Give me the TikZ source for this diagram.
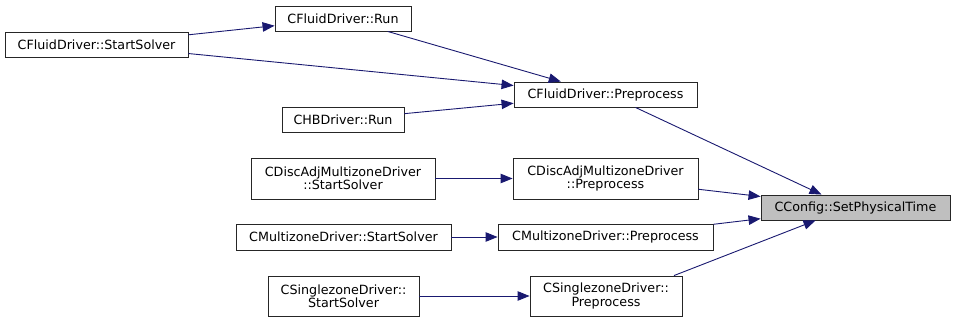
\documentclass[tikz,border=0pt]{standalone}
\usepackage{fontspec}
\setmainfont{DejaVu Sans}
\usetikzlibrary{arrows.meta,calc}
\definecolor{edgeblue}{HTML}{191970}
\definecolor{hlgray}{HTML}{BFBFBF}
\begin{document}
\begin{tikzpicture}[x=1pt,y=-1pt,
  fn/.style={draw=black!85,line width=0.9pt,fill=white,inner sep=0pt,
    align=center,font=\fontsize{12.7}{13.4}\selectfont,text=black},
  call/.style={draw=edgeblue,line width=0.9pt,
    -{Triangle[length=12pt,width=9.5pt]}}]
\useasboundingbox (0,0) rectangle (955,322);
% callers, leftmost column
\node[fn,minimum width=183,minimum height=25] (ss)  at (96.5,44.5) {CFluidDriver::StartSolver};
% middle column
\node[fn,minimum width=136,minimum height=25] (run) at (343,18.5) {CFluidDriver::Run};
\node[fn,minimum width=122,minimum height=25] (hb)  at (343,119.5) {CHBDriver::Run};
\node[fn,minimum width=184,minimum height=41] (dss) at (343,178.5) {CDiscAdjMultizoneDriver\\::StartSolver};
\node[fn,minimum width=215,minimum height=26] (mss) at (343.5,237) {CMultizoneDriver::StartSolver};
\node[fn,minimum width=151,minimum height=40] (sss) at (343.5,296) {CSinglezoneDriver::\\StartSolver};
% preprocess column
\node[fn,minimum width=183,minimum height=25] (fp)  at (605.5,94.5) {CFluidDriver::Preprocess};
\node[fn,minimum width=185,minimum height=41] (dpp) at (605.5,178.5) {CDiscAdjMultizoneDriver\\::Preprocess};
\node[fn,minimum width=215,minimum height=26] (mpp) at (605.5,237) {CMultizoneDriver::Preprocess};
\node[fn,minimum width=152,minimum height=40] (spp) at (606,296) {CSinglezoneDriver::\\Preprocess};
% the documented function
\node[fn,fill=hlgray,minimum width=189,minimum height=25] (spt) at (855.5,207.5) {CConfig::SetPhysicalTime};
% calls
\draw[call] (ss) -- (run);
\draw[call] (ss) -- (fp);
\draw[call] (run) -- (fp);
\draw[call] (hb) -- (fp);
\draw[call] (dss) -- (dpp);
\draw[call] (mss) -- (mpp);
\draw[call] (sss) -- (spp);
\draw[call] ($(fp.south)+(30,0)$) -- ($(spt.north)+(-34,0)$);
\draw[call] (dpp) -- (spt);
\draw[call] (mpp) -- (spt);
\draw[call] ($(spp.north)+(68,0)$) -- ($(spt.south)+(-40,0)$);
\end{tikzpicture}
\end{document}
